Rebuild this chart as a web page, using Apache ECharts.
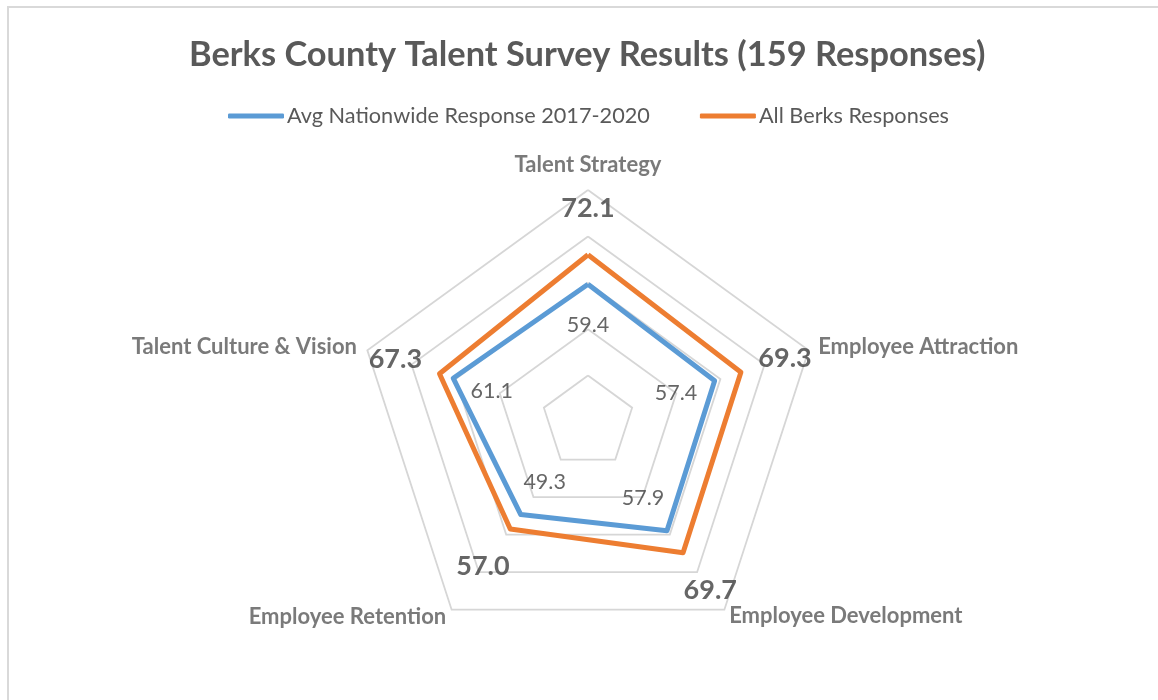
<!DOCTYPE html>
<html>
<head>
<meta charset="utf-8">
<script src="https://cdn.jsdelivr.net/npm/echarts@6/dist/echarts.min.js"></script>
<style>
  html, body { margin: 0; padding: 0; background: #fff; }
  #chart { width: 1158px; height: 700px; }
</style>
</head>
<body>
<div id="chart"></div>
<script>
// Categories in clockwise order from top (as drawn in the reference)
const categories = ['Talent Strategy', 'Employee Attraction', 'Employee Development', 'Employee Retention', 'Talent Culture & Vision'];
const seriesNames = ['Avg Nationwide Response 2017-2020', 'All Berks Responses'];
const nationwide = [59.4, 57.4, 57.9, 49.3, 61.1];
const berks = [72.1, 69.3, 69.7, 57.0, 67.3];
const axisMin = 0;
const axisMax = 100;

const FONT = 'Lato';
const CX = 588, CY = 422, R = 232;
const OVER = 1.2; // label overlay extends beyond the outer ring

// ECharts radar places indicators counter-clockwise; reorder so the drawing goes clockwise
const ccwOrder = [0, 4, 3, 2, 1];
const reorder = arr => ccwOrder.map(i => arr[i]);
const angleOf = i => (ccwOrder.indexOf(i) * 72);

const labelData = [];
nationwide.forEach((v, i) => {
  labelData.push({
    value: [v - 17.5, angleOf(i)],
    label: { formatter: v.toFixed(1), fontSize: 21.5, color: '#404040', fontFamily: FONT }
  });
});
berks.forEach((v, i) => {
  labelData.push({
    value: [v + 20, angleOf(i)],
    label: { formatter: v.toFixed(1), fontSize: 27, fontWeight: 'bold', color: '#404040', fontFamily: FONT }
  });
});
const nameAlign = ['center', 'left', 'left', 'right', 'right'];
const nameRadius = [111, 104.3, 103.5, 104, 104.7];
categories.forEach((c, i) => {
  labelData.push({
    value: [nameRadius[i], angleOf(i)],
    label: { formatter: c, fontSize: 22, fontWeight: 'bold', color: '#595959', fontFamily: FONT, align: nameAlign[i] }
  });
});

const chart = echarts.init(document.getElementById('chart'), null, { renderer: 'canvas' });
chart.setOption({
  backgroundColor: '#ffffff',
  animation: false,
  graphic: [{
    type: 'rect',
    shape: { x: 8, y: 7, width: 1300, height: 900 },
    style: { fill: null, stroke: '#D9D9D9', lineWidth: 2 },
    silent: true
  }],
  title: {
    text: 'Berks County Talent Survey Results (159 Responses)',
    left: 184,
    top: 33,
    textStyle: { fontFamily: FONT, fontSize: 34.4, fontWeight: 'bold', color: '#595959' }
  },
  legend: {
    data: seriesNames,
    top: 100,
    left: 223,
    icon: 'roundRect',
    itemWidth: 56,
    itemHeight: 5,
    itemGap: 50,
    textStyle: { fontFamily: FONT, fontSize: 21.7, color: '#595959', padding: [0, 0, 0, -2] }
  },
  radar: {
    center: [CX, CY],
    radius: R,
    startAngle: 90,
    splitNumber: 5,
    shape: 'polygon',
    indicator: reorder(categories).map(n => ({ name: n, min: axisMin, max: axisMax })),
    axisName: { show: false },
    axisLine: { show: false },
    axisTick: { show: false },
    splitLine: { lineStyle: { color: '#D6D6D6', width: 1.8 } },
    splitArea: { show: false }
  },
  polar: { center: [CX, CY], radius: R * OVER },
  angleAxis: { type: 'value', min: 0, max: 360, startAngle: 90, clockwise: false, show: false },
  radiusAxis: { type: 'value', min: axisMin, max: axisMax * OVER, show: false },
  series: [
    {
      type: 'radar',
      symbol: 'none',
      z: 3,
      data: [
        {
          name: seriesNames[0],
          value: reorder(nationwide),
          lineStyle: { color: '#5B9BD5', width: 5, join: 'round' },
          itemStyle: { color: '#5B9BD5' }
        },
        {
          name: seriesNames[1],
          value: reorder(berks),
          lineStyle: { color: '#ED7D31', width: 5, join: 'round' },
          itemStyle: { color: '#ED7D31' }
        }
      ]
    },
    {
      type: 'scatter',
      coordinateSystem: 'polar',
      symbolSize: 0,
      silent: true,
      z: 5,
      label: { show: true, position: 'inside', verticalAlign: 'middle' },
      data: labelData
    }
  ]
});
</script>
</body>
</html>
